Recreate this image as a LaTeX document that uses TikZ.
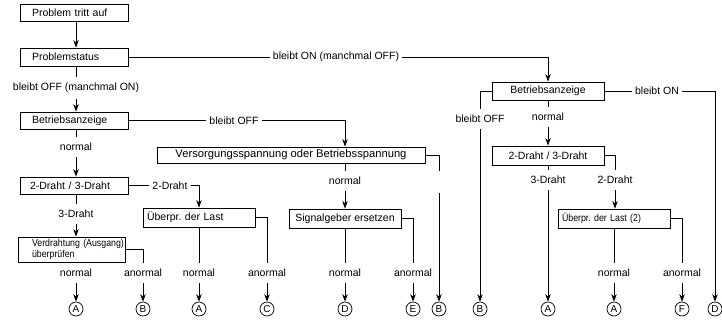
\documentclass[tikz,border=0pt]{standalone}
\usepackage{fontspec}
\setmainfont{Liberation Sans}
\newfontfamily\dgcondfam[FakeStretch=0.88]{Liberation Sans}
\usetikzlibrary{arrows.meta}
\newcommand{\dgmain}{\fontsize{10.5}{12}\selectfont}
\newcommand{\dgbig}{\fontsize{11.2}{13}\selectfont}
\newcommand{\dgsmall}{\dgcondfam\fontsize{10}{10.8}\selectfont}
\newcommand{\dgcirc}{\fontsize{10}{10}\selectfont}
\frenchspacing
\begin{document}
\begin{tikzpicture}[x=1pt,y=-1pt,line width=0.8pt,
  box/.style={draw, inner ysep=0pt, font=\dgmain},
  lbl/.style={inner xsep=3pt, inner ysep=6pt, font=\dgmain},
  arr/.style={-{Stealth[length=7.5pt,width=5.5pt]}},
  circ/.style={circle, draw, line width=0.7pt, minimum size=14pt, inner sep=0pt, font=\dgcirc}]
\useasboundingbox (0,0) rectangle (722,322);

% boxes
\node[box, minimum width=108pt, minimum height=17pt, text width=84pt, inner xsep=12pt, align=left] (b1) at (74,12.5) {Problem tritt auf};
\node[box, minimum width=108pt, minimum height=18pt, text width=84pt, inner xsep=12pt, align=left] (b2) at (74,57) {Problemstatus};
\node[box, minimum width=108pt, minimum height=17pt, text width=84pt, inner xsep=12pt, align=left] (b3) at (74,120.5) {Betriebsanzeige};
\node[box, minimum width=108pt, minimum height=17pt, text width=88pt, inner xsep=10pt, align=left] (b4) at (74,185.5) {2-Draht / 3-Draht};
\node[box, minimum width=107pt, minimum height=25pt, text width=107pt, inner xsep=0pt, align=left, font=\dgsmall] (b5) at (71.5,249.5) {\hspace*{14pt}Verdrahtung (Ausgang)\\\hspace*{14pt}überprüfen};
\node[box, minimum width=112pt, minimum height=19pt, text width=104pt, inner xsep=4pt, align=left] (b6) at (199,217.5) {Überpr. der Last};
\node[box, minimum width=268pt, minimum height=16pt, font=\dgbig] (b7) at (291,155) {Versorgungsspannung oder Betriebsspannung};
\node[box, minimum width=112pt, minimum height=19pt] (b8) at (345,218.5) {Signalgeber ersetzen};
\node[box, minimum width=112pt, minimum height=18pt] (b9) at (548,91) {Betriebsanzeige};
\node[box, minimum width=112pt, minimum height=19pt] (b10) at (548,155.5) {2-Draht / 3-Draht};
\node[box, minimum width=112pt, minimum height=19pt, text width=104pt, inner xsep=4pt, align=left, font=\dgsmall] (b11) at (614,218.5) {Überpr. der Last (2)};

% labels
\node[lbl] (l1) at (76,88) {bleibt OFF (manchmal ON)};
\node[lbl] (l2) at (336,57) {bleibt ON (manchmal OFF)};
\node[lbl] (l3) at (76,147) {normal};
\node[lbl] (l4) at (234,120.5) {bleibt OFF};
\node[lbl] (l5) at (76,214) {3-Draht};
\node[lbl] (l6) at (170,185.5) {2-Draht};
\node[lbl] (l7) at (76,273) {normal};
\node[lbl] (l8) at (143,273) {anormal};
\node[lbl] (l9) at (199,273) {normal};
\node[lbl] (l10) at (267,273) {anormal};
\node[lbl] (l11) at (345,181) {normal};
\node[lbl] (l12) at (345,273) {normal};
\node[lbl] (l13) at (413,273) {anormal};
\node[lbl] (l14) at (480,119) {bleibt OFF};
\node[lbl] (l15) at (548,117) {normal};
\node[lbl] (l16) at (657,91) {bleibt ON};
\node[lbl] (l17) at (548,180) {3-Draht};
\node[lbl] (l18) at (615,180) {2-Draht};
\node[lbl] (l19) at (614,273) {normal};
\node[lbl] (l20) at (682,273) {anormal};
\coordinate (g1) at (439,171);
\coordinate (g2) at (439,193);

% circles
\node[circ] (cA1) at (76,309) {A};
\node[circ] (cB1) at (143,309) {B};
\node[circ] (cA2) at (199,309) {A};
\node[circ] (cC) at (267,309) {C};
\node[circ] (cD1) at (345,309) {D};
\node[circ] (cE) at (413,309) {E};
\node[circ] (cB2) at (439,309) {B};
\node[circ] (cB3) at (480,309) {B};
\node[circ] (cA3) at (548,309) {A};
\node[circ] (cA4) at (614,309) {A};
\node[circ] (cF) at (682,309) {F};
\node[circ] (cD2) at (715,309) {D};

% left column
\draw[arr] ([xshift=2pt]b1.south) -- ([xshift=2pt]b2.north);
\draw ([xshift=2pt]b2.south) -- (l1.north);
\draw[arr] (l1.south) -- ([xshift=2pt]b3.north);
\draw ([xshift=2pt]b3.south) -- (l3.north);
\draw[arr] (l3.south) -- ([xshift=2pt]b4.north);
\draw ([xshift=2pt]b4.south) -- (l5.north);
\draw[arr] (l5.south) -- ([xshift=4.5pt]b5.north);
\draw ([xshift=4.5pt]b5.south) -- (l7.north);
\draw[arr] (l7.south) -- (cA1);
\draw (b5.east) -| (l8.north);
\draw[arr] (l8.south) -- (cB1);

% problem status ON branch
\draw (b2.east) -- (l2.west);
\draw[arr] (l2.east) -| (b9.north);

% Betriebsanzeige OFF branch
\draw (b3.east) -- (l4.west);
\draw[arr] (l4.east) -| (b7.north -| b8.north);

% 2-Draht branch left
\draw (b4.east) -- (l6.west);
\draw[arr] (l6.east) -| (b6.north);
\draw (b6.south) -- (l9.north);
\draw[arr] (l9.south) -- (cA2);
\draw (b6.east) -| (l10.north);
\draw[arr] (l10.south) -- (cC);

% Versorgung
\draw (b7.south -| b8.north) -- (l11.north);
\draw[arr] (l11.south) -- (b8.north);
\draw (b8.south) -- (l12.north);
\draw[arr] (l12.south) -- (cD1);
\draw (b8.east) -| (l13.north);
\draw[arr] (l13.south) -- (cE);
\draw (b7.east) -| (g1);
\draw[arr] (g2) -- (cB2);

% right part
\draw (b9.west) -| (l14.north);
\draw[arr] (l14.south) -- (cB3);
\draw (b9.south) -- (l15.north);
\draw[arr] (l15.south) -- (b10.north);
\draw (b9.east) -- (l16.west);
\draw[arr] (l16.east) -| (cD2);
\draw (b10.south) -- (l17.north);
\draw[arr] (l17.south) -- (cA3);
\draw (b10.east) -| (l18.north);
\draw[arr] (l18.south) -- (b11.north -| l18);
\draw (b11.south) -- (l19.north);
\draw[arr] (l19.south) -- (cA4);
\draw (b11.east) -| (l20.north);
\draw[arr] (l20.south) -- (cF);
\end{tikzpicture}
\end{document}
